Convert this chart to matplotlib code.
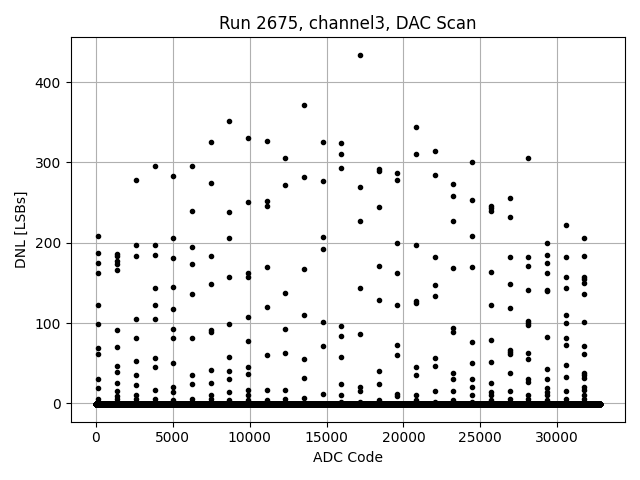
import matplotlib
matplotlib.use('Agg')

import numpy as np
import matplotlib.pyplot as plt

# ADC codes where the DNL spikes show up (one column of points each)
col_codes = [169, 1384, 2599, 3814, 5029, 6244, 7459, 8674, 9889, 11104,
             12319, 13534, 14749, 15964, 17179, 18394, 19609, 20824, 22039,
             23254, 24469, 25684, 26899, 28114, 29329, 30544, 31759]

# DNL values
dnl_00 = [208, 187, 175, 162, 123, 99, 69, 62, 30, 19, 5]
dnl_01 = [186, 184, 177, 174, 166, 91, 70, 46, 39, 26, 15, 9, 5]
dnl_02 = [278, 197, 184, 105, 81, 53, 35, 23, 10, 5]
dnl_03 = [296, 197, 185, 144, 123, 105, 56, 45, 17, 5]
dnl_04 = [283, 206, 181, 145, 117, 93, 81, 50, 21, 14, 4]
dnl_05 = [296, 240, 195, 174, 136, 82, 35, 24, 6]
dnl_06 = [325, 275, 184, 149, 92, 89, 42, 26, 11, 5]
dnl_07 = [351, 238, 206, 158, 99, 58, 40, 30, 14, 4]
dnl_08 = [331, 251, 162, 158, 107, 78, 45, 37, 17, 10, 4]
dnl_09 = [327, 252, 246, 170, 120, 60, 17, 4]
dnl_10 = [305, 272, 138, 93, 63, 17, 6]
dnl_11 = [371, 282, 167, 110, 55, 32, 7]
dnl_12 = [326, 277, 207, 192, 102, 71, 12]
dnl_13 = [324, 310, 293, 97, 84, 58, 24, 10, 2]
dnl_14 = [434, 269, 227, 144, 87, 20, 16, 2]
dnl_15 = [292, 289, 244, 171, 129, 41, 24, 4]
dnl_16 = [287, 278, 200, 162, 122, 73, 60, 12, 9]
dnl_17 = [344, 310, 197, 127, 125, 45, 36, 11, 4]
dnl_18 = [314, 285, 182, 148, 134, 56, 47, 16, 2]
dnl_19 = [273, 258, 227, 169, 94, 89, 38, 30, 15, 4]
dnl_20 = [300, 253, 208, 170, 76, 50, 30, 21, 10, 2]
dnl_21 = [246, 243, 240, 164, 123, 79, 52, 25, 14, 10, 4]
dnl_22 = [256, 232, 182, 149, 119, 67, 64, 61, 38, 16, 6]
dnl_23 = [306, 182, 171, 141, 103, 100, 98, 63, 55, 30, 27, 11, 6]
dnl_24 = [200, 185, 175, 162, 141, 140, 83, 43, 30, 19, 14, 10, 4]
dnl_25 = [222, 182, 158, 144, 110, 100, 82, 73, 48, 33, 16, 5]
dnl_26 = [206, 184, 158, 155, 150, 136, 102, 72, 61, 38, 36, 32, 20, 17, 10, 5]

spike_dnl = [dnl_00, dnl_01, dnl_02, dnl_03, dnl_04, dnl_05, dnl_06, dnl_07,
             dnl_08, dnl_09, dnl_10, dnl_11, dnl_12, dnl_13, dnl_14, dnl_15,
             dnl_16, dnl_17, dnl_18, dnl_19, dnl_20, dnl_21, dnl_22, dnl_23,
             dnl_24, dnl_25, dnl_26]

# every other code sits on the baseline
n_codes = 32768
baseline_dnl = -1.0

codes = np.arange(n_codes)
dnl = np.full(n_codes, baseline_dnl)

spike_x = []
spike_y = []
for code, vals in zip(col_codes, spike_dnl):
    spike_x += [code] * len(vals)
    spike_y += vals

fig = plt.figure(figsize=(6.4, 4.8), dpi=100)
plt.plot(np.concatenate([codes, spike_x]), np.concatenate([dnl, spike_y]), 'k.')
plt.title('Run 2675, channel3, DAC Scan')
plt.xlabel('ADC Code')
plt.ylabel('DNL [LSBs]')
plt.grid(True)
plt.tight_layout()
plt.savefig('out.png')
